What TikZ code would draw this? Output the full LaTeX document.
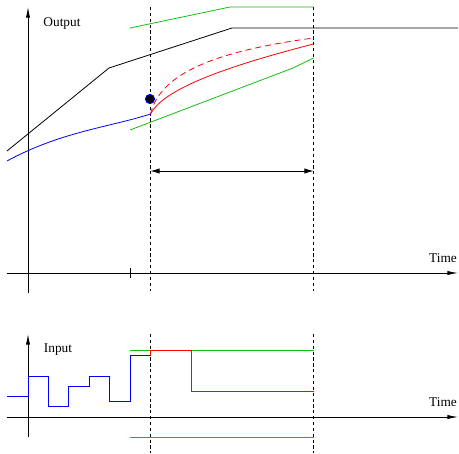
\documentclass[tikz,border=0pt]{standalone}
\usepackage{fontspec}
\setmainfont{Liberation Serif}
\usetikzlibrary{arrows.meta}
\definecolor{grn}{RGB}{20,190,20}
\tikzset{
  ax/.style={-{Latex[length=2.8mm,width=1.1mm]}, line width=0.6pt},
  harr/.style={{Latex[length=2.4mm,width=1.4mm]}-{Latex[length=2.4mm,width=1.4mm]}, line width=0.6pt},
  dsh/.style={dash pattern=on 2.4pt off 2pt, line width=0.6pt},
  crv/.style={line width=0.6pt},
  pred/.style={crv, red, dash pattern=on 4.5pt off 3pt},
  lbl/.style={font=\normalsize, inner sep=0pt}
}
\begin{document}
\begin{tikzpicture}[x=0.75pt,y=-0.75pt]
  \useasboundingbox (0,0) rectangle (459,453);
  % output
  \draw[ax] (28,293) -- (28,7);
  \draw[ax] (7,273) -- (458,273);
  \draw[crv] (130,268) -- (130,278);
  \node[lbl] (out) at (62,24) {Output};
  \node[lbl] (t1) at (443,258) {Time};
  \draw[dsh] (150.5,7) -- (150.5,291);
  \draw[dsh] (313.5,7) -- (313.5,291);
  \draw[crv] (7,151) -- (109,68) -- (232,28) -- (458,28);
  \draw[crv, grn] (130,28) -- (230,7) -- (313.5,7);
  \draw[crv, grn] (130,130) -- (293,68) -- (313.5,58);
  \draw[crv, blue] (7,161) .. controls (60,132) and (110,127) .. (150.5,114);
  \draw[crv, red] (150.5,114) .. controls (163,90) and (220,68) .. (313.5,44);
  \draw[pred] (150.5,114) .. controls (160,75) and (210,52) .. (313.5,38);
  \filldraw[fill=black, draw=blue, line width=0.6pt] (150,99) circle (3.5pt);
  \coordinate (h0) at (150.5,171);
  \coordinate (h1) at (313.5,171);
  \draw[harr] (h0) -- (h1);
  % input
  \draw[ax] (28,437) -- (28,334);
  \draw[ax] (7,417) -- (458,417);
  \node[lbl] (in) at (58,350) {Input};
  \node[lbl] (t2) at (443,402) {Time};
  \draw[dsh] (150.5,334) -- (150.5,453);
  \draw[dsh] (313.5,334) -- (313.5,453);
  \draw[crv, grn] (130,350) -- (313.5,350);
  \draw[crv, grn] (130,437) -- (313.5,437);
  \draw[crv, blue] (7,396) -| (28,376) -| (48,406) -| (68,386) -| (89,376) -| (109,401) -| (130,355) -- (150.5,355);
  \draw[crv, red] (150.5,355) |- (191,350) |- (313.5,391);
\end{tikzpicture}
\end{document}
